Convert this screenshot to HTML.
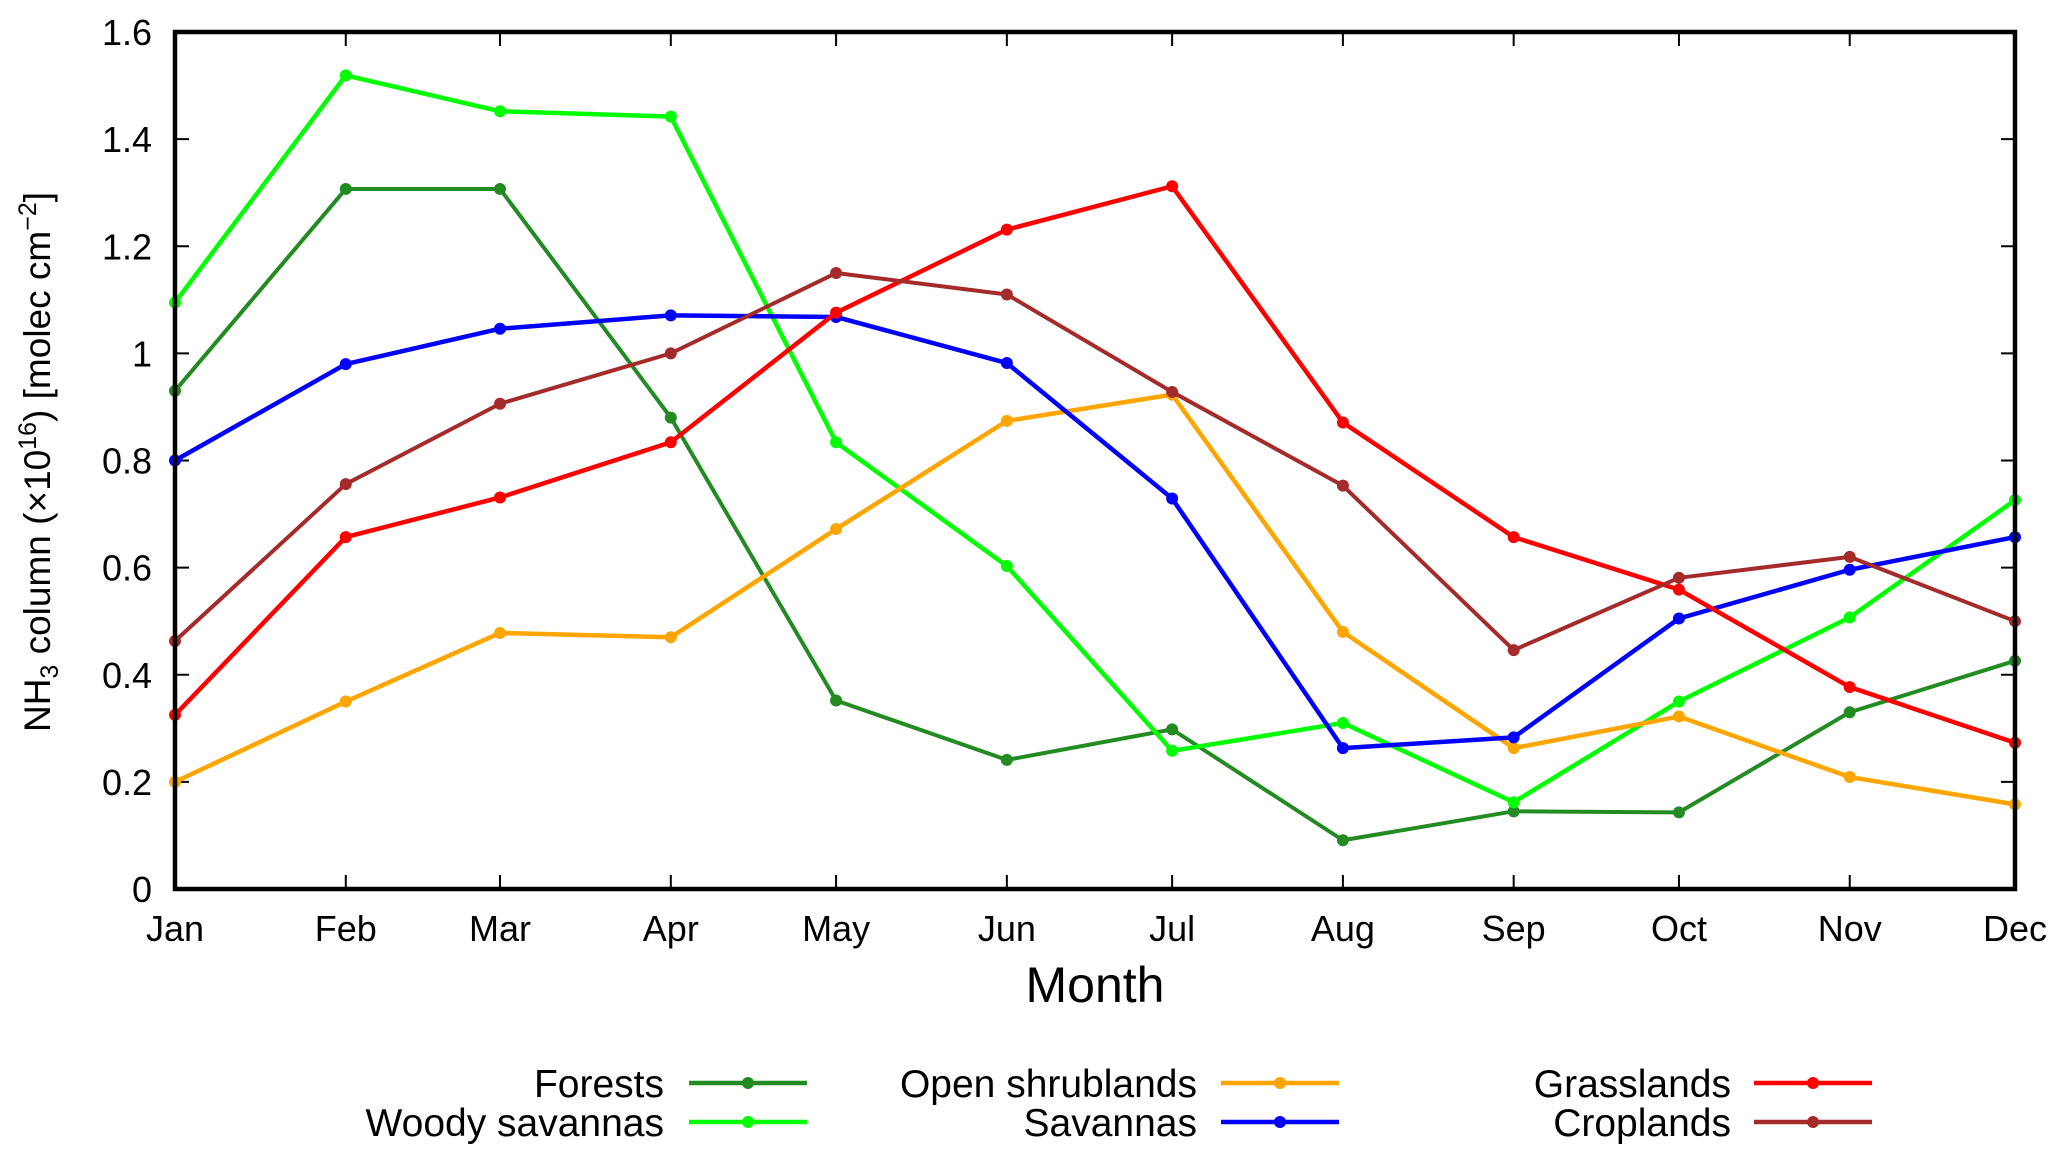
<!DOCTYPE html>
<html><head><meta charset="utf-8"><style>
html,body{margin:0;padding:0;background:#fff;}
svg{display:block;font-family:"Liberation Sans",Arial,sans-serif;}
</style></head><body>
<svg id="chart" width="2067" height="1160" viewBox="0 0 2067 1160" xmlns="http://www.w3.org/2000/svg"></svg>
<script>
const months = ["Jan","Feb","Mar","Apr","May","Jun","Jul","Aug","Sep","Oct","Nov","Dec"];
const monthDays = [0,31,59,90,120,151,181,212,243,273,304,334];
const yTicks = [0,0.2,0.4,0.6,0.8,1,1.2,1.4,1.6];
const yTickLabels = ["0","0.2","0.4","0.6","0.8","1","1.2","1.4","1.6"];
const forests = [0.93,1.307,1.307,0.88,0.352,0.241,0.298,0.091,0.145,0.143,0.33,0.426];
const woodySavannas = [1.095,1.519,1.452,1.442,0.834,0.603,0.258,0.31,0.162,0.35,0.507,0.726];
const openShrublands = [0.2,0.35,0.478,0.47,0.672,0.874,0.923,0.48,0.263,0.322,0.209,0.158];
const savannas = [0.8,0.98,1.046,1.071,1.068,0.982,0.729,0.263,0.283,0.505,0.596,0.657];
const grasslands = [0.325,0.657,0.731,0.834,1.076,1.231,1.312,0.871,0.657,0.559,0.377,0.273];
const croplands = [0.463,0.756,0.906,1.0,1.15,1.11,0.928,0.753,0.446,0.581,0.62,0.5];

const NS="http://www.w3.org/2000/svg";
const svg=document.getElementById('chart');
const L=175,R=2015,T=32,B=889;
const xs=d=>L+(d-monthDays[0])/(monthDays[11]-monthDays[0])*(R-L);
const ys=v=>B-v/1.6*(B-T);
function mk(tag,attrs,parent){const e=document.createElementNS(NS,tag);for(const k in attrs)e.setAttribute(k,attrs[k]);(parent||svg).appendChild(e);return e;}

yTicks.forEach((v,i)=>{
  const y=ys(v);
  if(i>0&&i<yTicks.length-1){
    const t1=mk('line',{x1:L,x2:L+14,y1:y,y2:y,stroke:'#000','stroke-width':2});
    
    
    const t2=mk('line',{x1:R-14,x2:R,y1:y,y2:y,stroke:'#000','stroke-width':2});
    
    
  }
  const tx=mk('text',{x:152,y:y+13,'text-anchor':'end','font-size':36});
  tx.textContent=yTickLabels[i];
  
  
});
months.forEach((m,i)=>{
  const x=xs(monthDays[i]);
  if(i>0&&i<11){
    const t1=mk('line',{x1:x,x2:x,y1:B,y2:B-14,stroke:'#000','stroke-width':2});
    
    
    const t2=mk('line',{x1:x,x2:x,y1:T,y2:T+14,stroke:'#000','stroke-width':2});
    
    
  }
  const tx=mk('text',{x:x,y:941,'text-anchor':'middle','font-size':36});
  tx.textContent=m;
  
  
});

const series=[
  {name:'Forests',data:forests,color:'#228b22',w:4,lx:664,sx:689,ly:1083},
  {name:'Woody savannas',data:woodySavannas,color:'#00ff00',w:4.5,lx:664,sx:689,ly:1122},
  {name:'Open shrublands',data:openShrublands,color:'#ffa500',w:4.5,lx:1197,sx:1221,ly:1083},
  {name:'Savannas',data:savannas,color:'#0000ff',w:4.5,lx:1197,sx:1221,ly:1122},
  {name:'Grasslands',data:grasslands,color:'#ff0000',w:4.5,lx:1731,sx:1754,ly:1083},
  {name:'Croplands',data:croplands,color:'#a52a2a',w:4,lx:1731,sx:1754,ly:1122}
];
series.forEach(s=>{
  const g=mk('g',{});
  
  
  const pts=s.data.map((v,i)=>xs(monthDays[i])+','+ys(v)).join(' ');
  const pl=mk('polyline',{points:pts,fill:'none',stroke:s.color,'stroke-width':s.w,'stroke-linejoin':'round'},g);
  
  
  s.data.forEach((v,i)=>{
    const c=mk('circle',{cx:xs(monthDays[i]),cy:ys(v),r:6,fill:s.color},g);
    
    
  });
  const lg=mk('g',{});
  
  
  const t=mk('text',{x:s.lx,y:s.ly+14,'text-anchor':'end','font-size':39},lg);
  t.textContent=s.name;
  
  
  const ln=mk('line',{x1:s.sx,x2:s.sx+118,y1:s.ly,y2:s.ly,stroke:s.color,'stroke-width':4.5},lg);
  
  
  const mc=mk('circle',{cx:s.sx+59,cy:s.ly,r:6,fill:s.color},lg);
  
  
});

const frame=mk('rect',{x:L,y:T,width:R-L,height:B-T,fill:'none',stroke:'#000','stroke-width':4.5});



const xt=mk('text',{x:1095,y:1002,'text-anchor':'middle','font-size':50});
xt.textContent='Month';



const yt=mk('text',{x:0,y:0,'text-anchor':'middle','font-size':37,transform:'translate(50,462) rotate(-90)'});


yt.innerHTML='NH<tspan font-size="25" dy="8">3</tspan><tspan dy="-8"> column (×10</tspan><tspan font-size="25" dy="-14">16</tspan><tspan dy="14">) [molec cm</tspan><tspan font-size="25" dy="-14">−2</tspan><tspan dy="14">]</tspan>';
</script>
</body></html>
